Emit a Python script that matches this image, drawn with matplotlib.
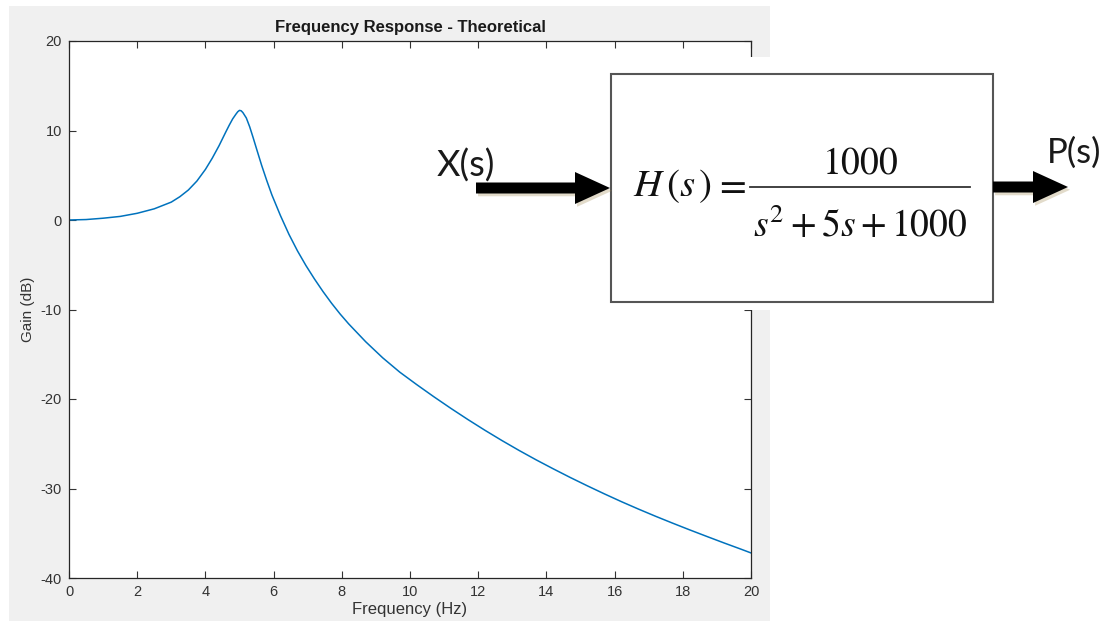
import numpy as np
import matplotlib
matplotlib.use("Agg")
import matplotlib.pyplot as plt
from matplotlib.patches import Rectangle, FancyArrow
import matplotlib.patheffects as pe

plt.rcParams['font.family'] = ['Liberation Sans', 'DejaVu Sans']
plt.rcParams['mathtext.fontset'] = 'stix'
plt.rcParams['axes.unicode_minus'] = False

# gain curve
freq = np.array([0, 0.5, 1.0, 1.5, 2.0, 2.5, 3.0, 3.25, 3.5, 3.75, 4.0, 4.2, 4.4,
                 4.6, 4.7, 4.8, 4.9, 4.95, 5.0, 5.05, 5.1, 5.2, 5.3, 5.4, 5.5,
                 5.65, 5.8, 5.95, 6.2, 6.45, 6.7, 6.95, 7.2, 7.45, 7.7, 7.95,
                 8.2, 8.7, 9.2, 9.7, 10.2, 10.7, 11.2, 11.7, 12.2, 12.7, 13.2,
                 13.7, 14.2, 14.7, 15.2, 15.7, 16.2, 16.7, 17.2, 17.7, 18.2,
                 18.7, 19.2, 19.7, 20.0])
gain = np.array([0.0, 0.05, 0.2, 0.4, 0.75, 1.25, 2.0, 2.6, 3.35, 4.35, 5.65, 6.9, 8.3,
                 9.85, 10.6, 11.3, 11.85, 12.1, 12.25, 12.2, 12.0, 11.4, 10.4, 9.2, 7.95,
                 6.1, 4.4, 2.8, 0.5, -1.6, -3.45, -5.1, -6.6, -8.0, -9.3, -10.5,
                 -11.6, -13.6, -15.4, -17.0, -18.4, -19.75, -21.05, -22.3, -23.5, -24.65, -25.75,
                 -26.8, -27.8, -28.77, -29.7, -30.6, -31.47, -32.3, -33.1, -33.87, -34.62,
                 -35.35, -36.07, -36.77, -37.2])

xticks = np.arange(0, 21, 2)
yticks = np.arange(-40, 21, 10)

W, H = 1115, 622
fig = plt.figure(figsize=(W / 100, H / 100), dpi=100)

# grey figure panel behind the plot
bg = fig.add_axes([0, 0, 1, 1], zorder=0)
bg.set_xlim(0, W)
bg.set_ylim(H, 0)
bg.axis('off')
bg.add_patch(Rectangle((9, 6), 761, 615, color='#f0f0f0', lw=0))

ax = fig.add_axes([69 / W, 1 - 578 / H, 682 / W, 537 / H], zorder=1)
ax.plot(freq, gain, color='#0072BD', lw=1.1)
ax.set_xlim(0, 20)
ax.set_ylim(-40, 20)
ax.set_xticks(xticks)
ax.set_yticks(yticks)
ax.tick_params(direction='in', length=5, width=0.8, top=True, right=True,
               labelsize=10.5, colors='#333333', pad=5)
for s in ax.spines.values():
    s.set_color('#262626')
    s.set_linewidth(0.9)
ax.set_title('Frequency Response - Theoretical', fontsize=12,
             fontweight='bold', color='#1a1a1a', pad=6.5)
ax.set_xlabel('Frequency (Hz)', fontsize=12, color='#333333', labelpad=2)
ax.set_ylabel('Gain (dB)', fontsize=11, color='#333333', labelpad=4)

# block diagram on top
ov = fig.add_axes([0, 0, 1, 1], zorder=2)
ov.set_xlim(0, W)
ov.set_ylim(H, 0)
ov.axis('off')
ov.patch.set_alpha(0)
ov.add_patch(Rectangle((600, 57), 515, 253, color='white', lw=0))
ov.add_patch(Rectangle((611, 74), 382, 228, fill=False, ec='#555555', lw=1.5))

shadow = [pe.SimplePatchShadow(offset=(1.5, -2), shadow_rgbFace='#a08850', alpha=0.3),
          pe.Normal()]
for x0, x1, y in [(476, 610, 188), (993, 1068, 187)]:
    arr = FancyArrow(x0, y, x1 - x0, 0, width=11, head_width=32, head_length=35,
                     length_includes_head=True, color='black', lw=0)
    arr.set_path_effects(shadow)
    ov.add_patch(arr)

ov.text(437, 177, 'X(s)', fontsize=26, family=['Lato', 'DejaVu Sans'],
        color='#1a1a1a', va='baseline', ha='left')
ov.text(1047, 163, 'P(s)', fontsize=25, family=['Lato', 'DejaVu Sans'],
        color='#1a1a1a', va='baseline', ha='left')

ov.text(633, 196, r'$H\,(s\,)$', fontsize=28, ha='left', va='baseline', color='#111111')
ov.text(730, 196, r'$=$', fontsize=28, ha='center', va='baseline', color='#111111')
ov.plot([750, 970], [187, 187], color='#333333', lw=1.3)
ov.text(860, 173, r'$1000$', fontsize=27, ha='center', va='baseline', color='#111111')
ov.text(860, 237, r'$s^2+5s+1000$', fontsize=27, ha='center', va='baseline', color='#111111')

fig.savefig('out.png', dpi=100)
